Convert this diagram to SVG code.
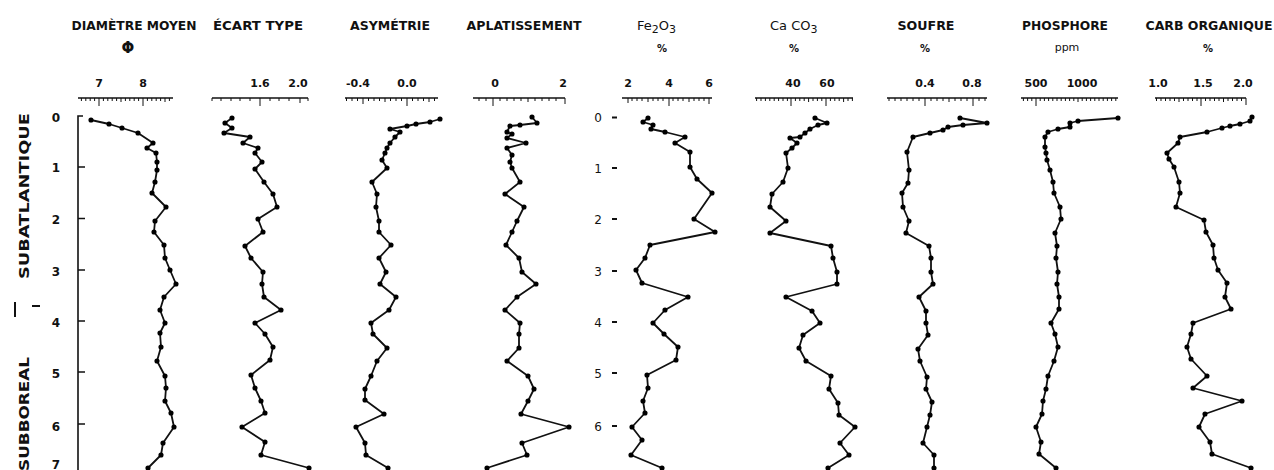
<svg xmlns="http://www.w3.org/2000/svg" width="1274" height="470" viewBox="0 0 1274 470">
<defs>
<marker id="dot" viewBox="-3.5 -3.5 7 7" markerWidth="6" markerHeight="6" markerUnits="userSpaceOnUse" refX="0" refY="0">
<circle cx="0" cy="0" r="3" fill="#000"/>
</marker>
</defs>
<style>
.title{font-family:"DejaVu Sans","Liberation Sans",sans-serif;font-weight:bold;font-size:12px;fill:#111;text-anchor:middle}
.chem{font-family:"DejaVu Sans","Liberation Sans",sans-serif;font-size:13px;fill:#111}
.unit{font-family:"DejaVu Sans","Liberation Sans",sans-serif;font-weight:bold;font-size:10px;fill:#111;text-anchor:middle}
.num{font-family:"DejaVu Sans","Liberation Sans",sans-serif;font-weight:bold;font-size:11px;fill:#111;text-anchor:middle}
.depth{font-family:"DejaVu Sans","Liberation Sans",sans-serif;font-weight:bold;font-size:12px;fill:#111;text-anchor:middle}
.era{font-family:"DejaVu Sans","Liberation Sans",sans-serif;font-weight:bold;font-size:14px;fill:#111}
.axis{fill:none;stroke:#111;stroke-width:1.6}
.tk{fill:none;stroke:#111;stroke-width:1}
.data{fill:none;stroke:#111;stroke-width:1.8;stroke-linejoin:round;marker-start:url(#dot);marker-mid:url(#dot);marker-end:url(#dot)}
</style>
<rect width="1274" height="470" fill="#fff"/>

<g id="depth-axis">
<path class="axis" d="M83 116 H78 V470"/>
<path class="axis" d="M78 167 h7 M78 218.5 h7 M78 270 h7 M78 321 h7 M78 372 h7 M78 424 h7"/>
<text class="depth" x="56" y="122">0</text>
<text class="depth" x="56" y="172">1</text>
<text class="depth" x="56" y="224">2</text>
<text class="depth" x="56" y="276">3</text>
<text class="depth" x="56" y="327">4</text>
<text class="depth" x="56" y="378">5</text>
<text class="depth" x="56" y="431">6</text>
<text class="depth" x="56" y="469">7</text>
<text class="era" transform="translate(29,279) rotate(-90)" textLength="166" lengthAdjust="spacingAndGlyphs">SUBATLANTIQUE</text>
<path class="axis" d="M15 302 V317 M32 306 H40" style="stroke-width:2"/>
<text class="era" transform="translate(29,471) rotate(-90)" textLength="114" lengthAdjust="spacingAndGlyphs">SUBBOREAL</text>
</g>

<g id="col-diametre">
<text class="title" x="134" y="30" textLength="125" lengthAdjust="spacingAndGlyphs">DIAMÈTRE MOYEN</text>
<text class="title" x="128" y="53" style="font-size:15px">Φ</text>
<text class="num" x="99" y="87">7</text>
<text class="num" x="143" y="87">8</text>
<path class="axis" d="M78 98 H173"/>
<path class="tk" d="M81.4 98v3M85.8 98v3M90.2 98v3M94.6 98v3M103.4 98v3M107.8 98v3M112.2 98v3M116.6 98v3M121 98v4M125.4 98v3M129.8 98v3M134.2 98v3M138.6 98v3M147.4 98v3M151.8 98v3M156.2 98v3M160.6 98v3M165 98v4M169.4 98v3M99 98v8M143 98v8"/>
<polyline class="data" points="91,120 109,124 122,128 138,133 153,143 147,148 156,153 157,162 157,170 155,182 152,193 166,207 155,221 154,232 164,245 165,258 170,270 176,284 164,297 160,310 165,323 160,333 161,347 157,361 165,376 166,388 165,401 171,413 174,427 163,443 161,455 148,468"/>
</g>

<g id="col-ecart">
<text class="title" x="258" y="30" textLength="90" lengthAdjust="spacingAndGlyphs">ÉCART TYPE</text>
<text class="num" x="260" y="87">1.6</text>
<text class="num" x="298" y="87">2.0</text>
<path class="axis" d="M212 98 H308"/>
<path class="tk" d="M212 98v3M221 98v3M231 98v3M240 98v3M250 98v3M270 98v3M279 98v3M289 98v3M300 98v5M308 98v3M260 98v8"/>
<polyline class="data" points="232,118 225,123 232,128 224,133 250,137 243,143 258,148 255,153 262,162 255,169 264,182 273,194 277,207 258,219 263,232 245,246 251,258 263,272 262,284 264,297 281,310 255,323 265,334 273,347 270,360 251,375 255,388 261,401 265,413 242,427 265,442 261,455 309,468"/>
</g>

<g id="col-asymetrie">
<text class="title" x="390" y="30" textLength="80" lengthAdjust="spacingAndGlyphs">ASYMÉTRIE</text>
<text class="num" x="358" y="87">-0.4</text>
<text class="num" x="407" y="87">0.0</text>
<path class="axis" d="M345 98 H438"/>
<path class="tk" d="M346.5 98v3M352 98v3M357.5 98v3M368.5 98v3M374 98v3M379.5 98v3M385 98v4M390.5 98v3M396 98v3M401.5 98v3M412.5 98v3M418 98v3M423.5 98v3M429 98v4M434.5 98v3M363 98v6M407 98v8"/>
<polyline class="data" points="440,119 430,122 416,124 407,126 390,129 400,132 395,137 390,143 387,148 385,153 382,160 387,168 372,182 377,194 376,207 379,221 379,232 391,245 379,258 386,272 380,284 396,297 389,310 371,323 373,334 387,348 377,361 371,376 365,389 365,400 384,414 356,427 365,443 366,455 388,468"/>
</g>

<g id="col-aplatissement">
<text class="title" x="524" y="30" textLength="115" lengthAdjust="spacingAndGlyphs">APLATISSEMENT</text>
<text class="num" x="495" y="87">0</text>
<text class="num" x="563" y="87">2</text>
<path class="axis" d="M473 98 H565"/>
<path class="tk" d="M479 98v3M486 98v3M500 98v3M507 98v3M514 98v3M521 98v3M528 98v4M535 98v3M542 98v3M549 98v3M556 98v3M493 98v8M565 98v6"/>
<polyline class="data" points="532,117 537,123 520,125 510,126 507,132 512,134 507,138 526,143 507,148 512,155 510,162 512,168 520,182 505,194 524,207 517,221 512,232 506,245 519,258 522,272 536,284 517,297 505,310 520,323 519,334 519,348 507,361 528,376 534,389 528,401 521,414 569,427 522,443 527,455 487,468"/>
</g>

<g id="col-fe2o3">
<text class="chem" x="637" y="30">Fe<tspan dy="3" font-size="11">2</tspan><tspan dy="-3">O</tspan><tspan dy="3" font-size="11">3</tspan></text>
<text class="unit" x="662" y="52">%</text>
<text class="num" x="628" y="87">2</text>
<text class="num" x="669" y="87">4</text>
<text class="num" x="709" y="87">6</text>
<path class="axis" d="M622 98 H712"/>
<path class="tk" d="M632 98v3M637 98v3M642 98v3M648 98v4M653 98v3M658 98v3M663 98v3M673 98v3M678 98v3M683 98v3M689 98v4M694 98v3M699 98v3M704 98v3M628 98v5M669 98v8M709 98v6"/>
<text class="depth" x="598" y="122" style="font-weight:normal">0</text>
<text class="depth" x="598" y="173" style="font-weight:normal">1</text>
<text class="depth" x="598" y="224" style="font-weight:normal">2</text>
<text class="depth" x="598" y="276" style="font-weight:normal">3</text>
<text class="depth" x="598" y="327" style="font-weight:normal">4</text>
<text class="depth" x="598" y="378" style="font-weight:normal">5</text>
<text class="depth" x="598" y="431" style="font-weight:normal">6</text>
<path class="axis" d="M612 117.5h5M612 168h5M612 219h5M612 271h5M612 322h5M612 373h5M612 426h5" style="stroke-width:1.8"/>
<polyline class="data" points="648,118 643,122 653,125 651,129 665,132 685,137 675,143 690,152 690,167 697,179 712,193 694,219 715,232 650,245 645,258 636,270 642,283 688,297 665,310 653,323 664,334 678,347 676,360 647,375 648,388 643,401 645,413 632,427 642,440 631,455 662,468"/>
</g>

<g id="col-caco3">
<text class="chem" x="770" y="30">Ca CO<tspan dy="3" font-size="11">3</tspan></text>
<text class="unit" x="794" y="52">%</text>
<text class="num" x="793" y="87">40</text>
<text class="num" x="827" y="87">60</text>
<path class="axis" d="M755 98 H853"/>
<path class="tk" d="M756.6 98v3M761 98v3M765.4 98v3M769.8 98v3M774.2 98v3M778.6 98v3M783 98v3M787.4 98v3M795.4 98v3M799.8 98v3M804.2 98v3M808.6 98v4M813 98v3M817.4 98v3M821.8 98v3M830.4 98v3M834.8 98v3M839.2 98v3M843.6 98v4M848 98v3M852.4 98v3M791 98v8M826 98v8"/>
<polyline class="data" points="815,118 827,123 818,125 810,129 805,133 800,137 790,138 797,143 792,148 786,153 788,168 783,182 772,194 770,207 786,221 770,233 831,246 833,258 837,272 837,284 786,297 812,311 820,323 803,335 799,348 806,361 831,376 829,389 838,403 839,415 855,427 840,443 849,455 828,468"/>
</g>

<g id="col-soufre">
<text class="title" x="926" y="30" textLength="57" lengthAdjust="spacingAndGlyphs">SOUFRE</text>
<text class="unit" x="925" y="52">%</text>
<text class="num" x="925" y="87">0.4</text>
<text class="num" x="972" y="87">0.8</text>
<path class="axis" d="M887 98 H987"/>
<path class="tk" d="M889 98v3M895 98v3M901 98v3M907 98v3M913 98v3M919 98v3M931 98v3M937 98v3M943 98v3M949 98v4M955 98v3M961 98v3M967 98v3M979 98v3M985 98v3M925 98v8M973 98v8"/>
<polyline class="data" points="960,118 987,123 963,125 948,127 943,130 930,133 913,137 907,152 909,170 908,183 902,193 903,207 909,221 906,233 929,246 931,258 931,272 933,284 919,297 926,311 926,323 928,335 918,349 920,361 927,377 926,389 932,402 930,415 927,427 923,443 934,455 934,468"/>
</g>

<g id="col-phosphore">
<text class="title" x="1065" y="30" textLength="86" lengthAdjust="spacingAndGlyphs">PHOSPHORE</text>
<text class="unit" x="1067" y="51" style="font-weight:normal;font-size:11px">ppm</text>
<text class="num" x="1036" y="87">500</text>
<text class="num" x="1082" y="87">1000</text>
<path class="axis" d="M1021 98 H1118"/>
<path class="tk" d="M1023.4 98v3M1027.6 98v3M1031.8 98v3M1040.2 98v3M1044.4 98v3M1048.6 98v3M1052.8 98v3M1057 98v3M1061.2 98v3M1065.4 98v3M1069.6 98v3M1073.8 98v3M1078 98v4M1082.2 98v3M1086.4 98v3M1090.6 98v3M1094.8 98v3M1099 98v3M1103.2 98v3M1107.4 98v3M1111.6 98v3M1115.8 98v3M1036 98v8"/>
<polyline class="data" points="1118,118 1078,121 1070,123 1070,127 1058,129 1048,132 1045,137 1045,147 1046,153 1047,160 1050,170 1053,182 1054,193 1060,207 1061,219 1055,233 1057,246 1056,258 1058,272 1057,284 1059,297 1059,309 1051,323 1055,334 1058,347 1054,361 1048,376 1046,389 1043,401 1042,414 1036,427 1041,442 1039,454 1056,468"/>
</g>

<g id="col-carbone">
<text class="title" x="1209" y="30" textLength="127" lengthAdjust="spacingAndGlyphs">CARB ORGANIQUE</text>
<text class="unit" x="1208" y="52">%</text>
<text class="num" x="1158" y="87">1.0</text>
<text class="num" x="1203" y="87">1.5</text>
<text class="num" x="1243" y="87">2.0</text>
<path class="axis" d="M1155 98 H1246"/>
<path class="tk" d="M1156.5 98v3M1161 98v3M1165.5 98v3M1170 98v3M1174.5 98v3M1179 98v4M1183.5 98v3M1188 98v3M1192.5 98v3M1197 98v3M1205.5 98v3M1210 98v3M1214.5 98v3M1219 98v3M1223.5 98v4M1228 98v3M1232.5 98v3M1237 98v3M1241.5 98v3M1201 98v8M1246 98v7"/>
<polyline class="data" points="1252,117 1250,121 1240,124 1230,126 1222,128 1207,132 1180,137 1178,143 1167,153 1169,159 1174,167 1179,182 1180,193 1176,207 1204,220 1206,232 1213,245 1214,258 1218,270 1227,283 1225,297 1231,309 1193,323 1191,334 1187,347 1191,359 1207,376 1193,388 1242,401 1205,414 1199,427 1210,442 1212,454 1251,468"/>
</g>
</svg>
